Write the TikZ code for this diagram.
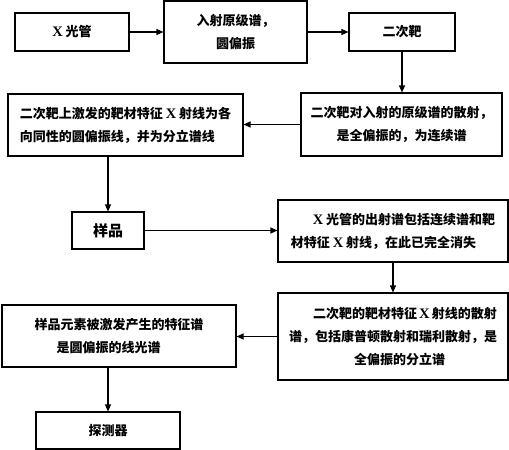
\documentclass[tikz,border=0pt]{standalone}
\usepackage{fontspec}
\setmainfont{Noto Sans CJK SC}
\newfontfamily\latserif{Liberation Serif}
\newcommand{\Xr}{{\latserif\bfseries\fontsize{14.5}{23}\selectfont X}}
\usetikzlibrary{arrows.meta}
\tikzset{
  box/.style={draw, line width=1.1pt, inner sep=0pt, font=\bfseries\fontsize{13}{23}\selectfont},
  arr/.style={line width=1.1pt, -{Triangle[length=7pt,width=6pt]}},
  ln/.style={line width=1.1pt}
}
\begin{document}
\begin{tikzpicture}[x=1pt,y=-1pt]
\useasboundingbox (0,0) rectangle (509,450);
\node[box, minimum width=114pt, minimum height=38pt] (b1) at (72,32) {\Xr\ 光管};
\node[box, minimum width=143pt, minimum height=62pt, align=center] (b2) at (235.5,32) {入射原级谱，\\圆偏振};
\node[box, minimum width=106pt, minimum height=38pt] (b3) at (402,32) {二次靶};
\node[box, minimum width=201pt, minimum height=63pt, align=center] (b4) at (401.5,124.5) {二次靶对入射的原级谱的散射，\\是全偏振的，为连续谱};
\node[box, minimum width=235pt, minimum height=62pt, align=left] (b5) at (125.5,125) {二次靶上激发的靶材特征 \Xr\ 射线为各\\向同性的圆偏振线，并为分立谱线};
\node[box, minimum width=72pt, minimum height=37pt, font=\bfseries\fontsize{15}{18}\selectfont] (yp) at (108,230.5) {样品};
\node[box, minimum width=230pt, minimum height=62pt, align=left] (b6) at (393,231) {\hspace*{22pt}\Xr\ 光管的出射谱包括连续谱和靶\\材特征 \Xr\ 射线，在此已完全消失};
\node[box, minimum width=230pt, minimum height=87pt, align=left] (b7) at (393,336.5) {\hspace*{24pt}二次靶的靶材特征\,\Xr\,射线的散射\\谱，包括康普顿散射和瑞利散射，是\\\hspace*{65pt}全偏振的分立谱};
\node[box, minimum width=234pt, minimum height=62pt, align=left] (b8) at (119,336) {样品元素被激发产生的特征谱\\\hspace*{22pt}是圆偏振的线光谱};
\node[box, minimum width=144pt, minimum height=37pt] (b9) at (108,430.5) {探测器};
\draw[arr] (b1.east) -- (b2.west |- b1.east);
\draw[arr] (b2.east) -- (b3.west |- b2.east);
\draw[arr] (b3.south) -- (b3.south |- b4.north);
\draw[arr] (b4.west) -- (b5.east |- b4.west);
\draw[arr] (yp.north |- b5.south) -- (yp.north);
\draw[arr] (yp.east) -- (b6.west |- yp.east);
\draw[arr] (b6.south) -- (b7.north);
\draw[arr] (b7.west) -- (b8.east |- b7.west);
\draw[arr] (b9.north |- b8.south) -- (b9.north);
\end{tikzpicture}
\end{document}
